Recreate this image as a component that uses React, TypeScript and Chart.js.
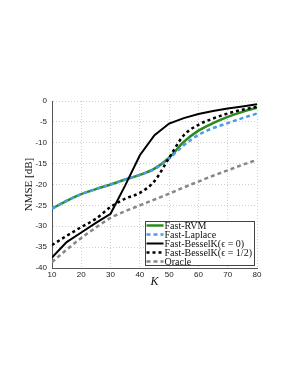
import React, { useEffect, useRef } from "react";
import { Chart, registerables } from "chart.js";

Chart.register(...registerables);

const kValues = [10, 15, 20, 25, 30, 35, 40, 45, 50, 55, 60, 65, 70, 75, 80];
const fastRVM = [-25.8, -23.9, -22.3, -21.1, -20.0, -18.8, -17.7, -16.2, -13.6, -9.8, -7.1, -5.3, -3.8, -2.6, -1.6];
const fastLaplace = [-25.8, -23.9, -22.3, -21.1, -20.0, -18.8, -17.7, -16.3, -13.8, -10.6, -8.1, -6.5, -5.3, -4.1, -3.0];
const besselK0 = [-37.5, -33.8, -31.5, -29.2, -27.0, -20.2, -13.0, -8.2, -5.4, -4.1, -3.1, -2.4, -1.8, -1.3, -0.8];
const besselKHalf = [-34.5, -32.3, -30.2, -28.2, -25.4, -23.4, -22.0, -19.2, -13.6, -8.2, -5.7, -4.2, -3.0, -2.1, -1.4];
const oracle = [-38.6, -35.6, -32.8, -30.3, -28.0, -26.4, -25.0, -23.6, -22.2, -20.7, -19.3, -17.9, -16.6, -15.3, -14.1];

const seriesLabels = [
  "Fast-RVM",
  "Fast-Laplace",
  "Fast-BesselK(\u03F5 = 0)",
  "Fast-BesselK(\u03F5 = 1/2)",
  "Oracle",
];
const xTickValues = [10, 20, 30, 40, 50, 60, 70, 80];
const yTickValues = [0, -5, -10, -15, -20, -25, -30, -35, -40];

const styles = [
  { color: "#2b8a1e", width: 2.5, dash: [] as number[] },
  { color: "#4a9be8", width: 2.5, dash: [4, 3] },
  { color: "#000000", width: 2, dash: [] as number[] },
  { color: "#000000", width: 2.5, dash: [3, 3] },
  { color: "#888888", width: 2.5, dash: [4, 3] },
];

const seriesValues = [fastRVM, fastLaplace, besselK0, besselKHalf, oracle];

const insideLegend = {
  id: "insideLegend",
  afterDraw(chart: any) {
    const ctx = chart.ctx as CanvasRenderingContext2D;
    const area = chart.chartArea;
    ctx.save();
    ctx.font = "10px 'Liberation Serif', serif";
    let maxW = 0;
    seriesLabels.forEach((l) => {
      maxW = Math.max(maxW, ctx.measureText(l).width);
    });
    const sample = 17;
    const rowH = 9;
    const w = Math.round(maxW + sample + 5);
    const h = seriesLabels.length * rowH - 1;
    const right = area.right - 2.5;
    const bottom = area.bottom - 2.5;
    const left = right - w;
    const top = bottom - h;
    ctx.fillStyle = "#ffffff";
    ctx.fillRect(left, top, w, h);
    ctx.strokeStyle = "#444444";
    ctx.lineWidth = 1;
    ctx.setLineDash([]);
    ctx.strokeRect(left, top, w, h);
    seriesLabels.forEach((label, i) => {
      const cy = top + 4 + i * rowH;
      const st = styles[i];
      ctx.beginPath();
      ctx.strokeStyle = st.color;
      ctx.lineWidth = st.width;
      ctx.setLineDash(st.dash);
      ctx.moveTo(left + 1, cy);
      ctx.lineTo(left + 1 + sample, cy);
      ctx.stroke();
      ctx.setLineDash([]);
      ctx.fillStyle = "#111111";
      ctx.textBaseline = "middle";
      ctx.textAlign = "left";
      ctx.fillText(label, left + sample + 2, cy + 0.5);
    });
    ctx.restore();
  },
};

export default function App() {
  const canvasRef = useRef<HTMLCanvasElement | null>(null);

  useEffect(() => {
    const canvas = canvasRef.current;
    if (!canvas) return;
    const datasets = seriesValues.map((vals, i) => ({
      label: seriesLabels[i],
      data: kValues.map((k, j) => ({ x: k, y: vals[j] })),
      borderColor: styles[i].color,
      backgroundColor: styles[i].color,
      borderWidth: styles[i].width,
      borderDash: styles[i].dash,
      pointRadius: 0,
      tension: 0.3,
      cubicInterpolationMode: "monotone" as const,
      fill: false,
      order: 10 - i,
    }));
    // keep the solid BesselK piecewise-linear
    (datasets[2] as any).tension = 0;
    (datasets[2] as any).cubicInterpolationMode = "default";

    const chart = new Chart(canvas, {
      type: "line",
      data: { datasets },
      options: {
        animation: false,
        responsive: true,
        maintainAspectRatio: false,
        layout: { padding: { left: 0, top: 101, right: 34, bottom: 78 } },
        plugins: {
          legend: { display: false },
          tooltip: { enabled: false },
        },
        scales: {
          x: {
            type: "linear",
            min: 10,
            max: 80,
            afterBuildTicks: (axis: any) => {
              axis.ticks = xTickValues.map((v) => ({ value: v }));
            },
            afterFit: (axis: any) => {
              axis.height = 30;
            },
            grid: { color: "#cfcfcf", lineWidth: 1, drawTicks: false },
            border: { display: true, color: "#555555", width: 1, dash: [1, 2] },
            ticks: {
              color: "#222222",
              padding: 2,
              maxRotation: 0,
              font: { family: "'Liberation Sans', Arial, sans-serif", size: 8 },
            },
            title: {
              display: true,
              text: "K",
              color: "#111111",
              font: { family: "'Liberation Serif', serif", size: 12, style: "italic" },
              padding: { top: 0, bottom: 9 },
            },
          },
          y: {
            type: "linear",
            min: -40,
            max: 0,
            afterBuildTicks: (axis: any) => {
              axis.ticks = yTickValues.map((v) => ({ value: v }));
            },
            afterFit: (axis: any) => {
              axis.width = 52;
            },
            grid: { color: "#cfcfcf", lineWidth: 1, drawTicks: false },
            border: { display: true, color: "#555555", width: 1, dash: [1, 2] },
            ticks: {
              color: "#222222",
              padding: 5,
              font: { family: "'Liberation Sans', Arial, sans-serif", size: 8 },
            },
            title: {
              display: true,
              text: "NMSE [dB]",
              color: "#111111",
              font: { family: "'Liberation Serif', serif", size: 11 },
              padding: { top: 23, bottom: 0 },
            },
          },
        },
      },
      plugins: [insideLegend],
    });
    return () => chart.destroy();
  }, []);

  return (
    <div style={{ position: "absolute", left: 0, top: 0, width: 291, height: 376, background: "#fff" }}>
      <canvas ref={canvasRef} />
    </div>
  );
}
